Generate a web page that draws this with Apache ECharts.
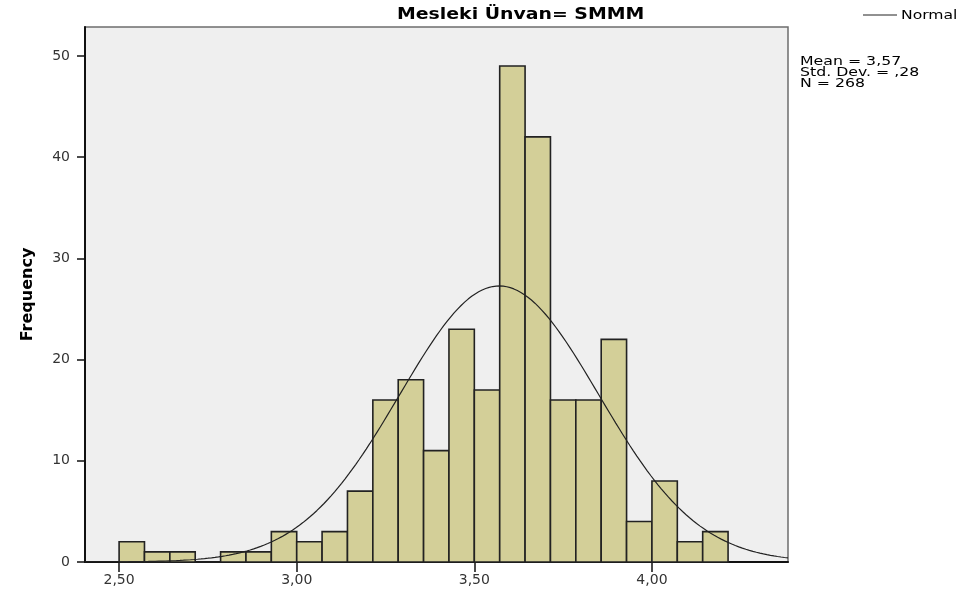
<!DOCTYPE html>
<html><head><meta charset="utf-8">
<script src="https://cdn.jsdelivr.net/npm/echarts@6/dist/echarts.min.js"></script>
<style>html,body{margin:0;padding:0;background:#fff}#c{width:964px;height:597px}</style>
</head><body><div id="c"></div>
<script>
// Data
const binStart = 2.5;
const binWidth = 1 / 14;
const counts = [2, 1, 1, 0, 1, 1, 3, 2, 3, 7, 16, 18, 11, 23, 17, 49, 42, 16, 16, 22, 4, 8, 2, 3];
const xTicks = [2.5, 3.0, 3.5, 4.0];
const yTicks = [0, 10, 20, 30, 40, 50];
const statLines = ['Mean = 3,57', 'Std. Dev. = ,28', 'N = 268'];
const mean = 3.57, sd = 0.28, N = 268;
const titleText = 'Mesleki Ünvan= SMMM';
const legendName = 'Normal';

const xMin = 2.404, xMax = 4.383, yMax = 52.86;

const bars = counts.map((c, i) => [binStart + i * binWidth, binStart + (i + 1) * binWidth, c]);
// normal curve from the stated Mean / Std. Dev. / N
const curve = [];
for (let k = 0; k <= 200; k++) {
  const x = xMin + (xMax - xMin) * k / 200;
  const z = (x - mean) / sd;
  curve.push([x, N * binWidth / (sd * Math.sqrt(2 * Math.PI)) * Math.exp(-0.5 * z * z)]);
}
const fmt = v => v.toFixed(2).replace('.', ',');
const font = '"DejaVu Sans", sans-serif';

const chart = echarts.init(document.getElementById('c'));
chart.setOption({
  animation: false,
  grid: { left: 85, right: 176, top: 27, bottom: 35, show: true,
    backgroundColor: '#EFEFEF', borderColor: '#6E6E6E', borderWidth: 1.5 },
  xAxis: { type: 'value', min: xMin, max: xMax,
    axisLine: { show: true, onZero: false, lineStyle: { color: '#111', width: 2 } },
    axisTick: { show: true, length: 10, customValues: xTicks, lineStyle: { color: '#111', width: 1.5 } },
    axisLabel: { customValues: xTicks, formatter: v => fmt(v), margin: 11,
      fontFamily: font, fontSize: 14, color: '#333' },
    splitLine: { show: false } },
  yAxis: { type: 'value', min: 0, max: yMax,
    name: 'Frequency', nameLocation: 'middle', nameGap: 49, nameRotate: 90,
    nameTextStyle: { fontFamily: font, fontWeight: 'bold', fontSize: 16, color: '#000' },
    axisLine: { show: true, lineStyle: { color: '#111', width: 2 } },
    axisTick: { show: true, length: 8, customValues: yTicks, lineStyle: { color: '#111', width: 1.5 } },
    axisLabel: { customValues: yTicks, margin: 15, fontFamily: font, fontSize: 14, color: '#333' },
    splitLine: { show: false } },
  graphic: [
    { type: 'text', x: 397, y: 15, scaleX: 1.18,
      style: { text: titleText, font: 'bold 16px ' + font, fill: '#000', verticalAlign: 'middle' } },
    { type: 'line', shape: { x1: 863, y1: 15, x2: 897, y2: 15 }, style: { stroke: '#222', lineWidth: 1 } },
    { type: 'text', x: 901, y: 15.5, scaleX: 1.2,
      style: { text: legendName, font: '13px ' + font, fill: '#000', verticalAlign: 'middle' } },
    ...statLines.map((t, i) => ({ type: 'text', x: 800, y: 62 + i * 10.8, scaleX: 1.26,
      style: { text: t, font: '12.5px ' + font, fill: '#000', verticalAlign: 'middle' } }))
  ],
  series: [
    { type: 'custom', name: 'hist', data: bars, z: 2,
      encode: { x: [0, 1], y: 2 },
      renderItem: (params, api) => {
        const p0 = api.coord([api.value(0), api.value(2)]);
        const p1 = api.coord([api.value(1), 0]);
        return { type: 'rect',
          shape: { x: p0[0], y: p0[1], width: p1[0] - p0[0], height: p1[1] - p0[1] },
          style: { fill: '#D3CF98', stroke: '#222', lineWidth: 1.6 } };
      } },
    { type: 'line', name: 'Normal', data: curve, showSymbol: false, z: 5,
      lineStyle: { color: '#222', width: 1.2 }, itemStyle: { color: '#222' } }
  ]
});
</script></body></html>
